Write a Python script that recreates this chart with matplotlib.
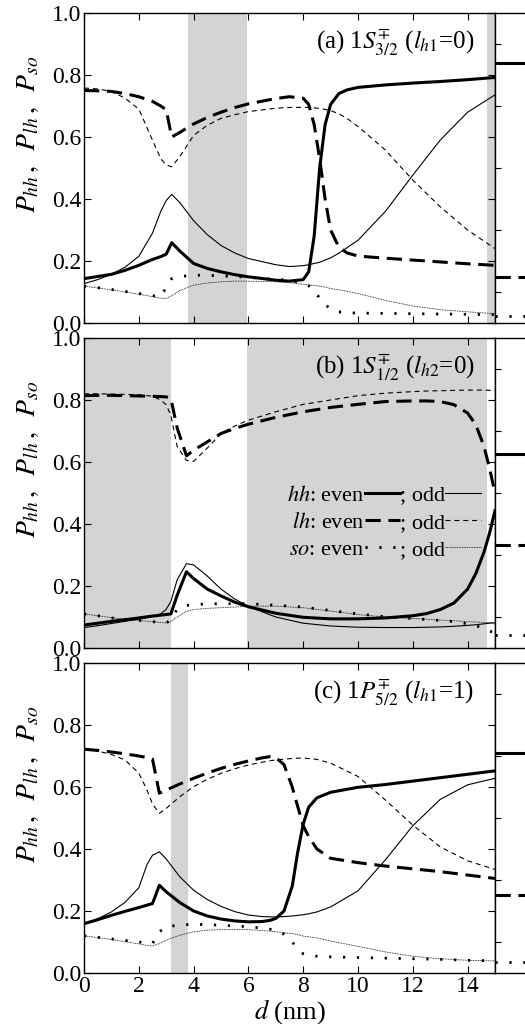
import numpy as np
import matplotlib
matplotlib.use("Agg")
import matplotlib.pyplot as plt

plt.rcParams['font.family'] = ['Liberation Serif', 'DejaVu Serif']
plt.rcParams['mathtext.fontset'] = 'stix'
plt.rcParams['font.size'] = 17

# ---- panel (a) 1S 3/2 ----
d_a = [0, 0.5, 1, 1.5, 2, 2.5, 2.8, 3.0, 3.2, 3.5, 4, 4.5, 5, 5.5, 6, 7, 7.5, 8,
       8.2, 8.4, 8.6, 8.8, 9.0, 9.3, 9.6, 10, 11, 12, 13, 14, 15]
hh_even_a = [0.143, 0.150, 0.157, 0.170, 0.186, 0.205, 0.214, 0.222, 0.259, 0.232,
             0.192, 0.176, 0.165, 0.156, 0.149, 0.138, 0.135, 0.140, 0.165, 0.28,
             0.50, 0.64, 0.705, 0.74, 0.752, 0.760, 0.768, 0.774, 0.779, 0.785, 0.792]
hh_odd_a = [0.127, 0.140, 0.157, 0.180, 0.215, 0.29, 0.36, 0.395, 0.415, 0.388,
            0.33, 0.285, 0.25, 0.226, 0.208, 0.188, 0.182, 0.185, 0.188, 0.192,
            0.196, 0.203, 0.21, 0.225, 0.243, 0.267, 0.36, 0.477, 0.59, 0.68, 0.736]
lh_even_a = [0.75, 0.749, 0.747, 0.74, 0.73, 0.715, 0.70, 0.688, 0.60, 0.615,
             0.642, 0.663, 0.68, 0.695, 0.707, 0.724, 0.73, 0.725, 0.705, 0.64,
             0.53, 0.40, 0.30, 0.245, 0.226, 0.216, 0.209, 0.203, 0.197, 0.191, 0.186]
lh_odd_a = [0.758, 0.755, 0.747, 0.725, 0.69, 0.59, 0.53, 0.51, 0.504, 0.537,
            0.605, 0.638, 0.66, 0.672, 0.682, 0.693, 0.695, 0.696, 0.695, 0.694,
            0.692, 0.689, 0.685, 0.675, 0.66, 0.634, 0.558, 0.461, 0.375, 0.30, 0.24]
so_even_a = [0.119, 0.114, 0.108, 0.102, 0.095, 0.088, 0.085, 0.115, 0.143, 0.150,
             0.154, 0.154, 0.152, 0.150, 0.147, 0.141, 0.138, 0.128, 0.12, 0.105,
             0.08, 0.06, 0.045, 0.036, 0.033, 0.032, 0.031, 0.030, 0.029, 0.028, 0.027]
so_odd_a = [0.119, 0.113, 0.107, 0.100, 0.093, 0.085, 0.080, 0.079, 0.088, 0.105,
            0.122, 0.129, 0.133, 0.135, 0.135, 0.133, 0.130, 0.125, 0.123, 0.121,
            0.119, 0.116, 0.111, 0.107, 0.102, 0.095, 0.073, 0.055, 0.043, 0.036, 0.030]

# ---- panel (b) 1S 1/2 ----
d_b = [0, 0.5, 1, 1.5, 2, 2.5, 2.8, 3.0, 3.17, 3.4, 3.74, 4, 4.5, 5, 5.5, 6, 7, 8,
       9, 10, 11, 12, 12.5, 13, 13.5, 14, 14.3, 14.6, 14.8, 15]
hh_even_b = [0.074, 0.080, 0.086, 0.091, 0.097, 0.103, 0.106, 0.108, 0.110, 0.17,
             0.246, 0.224, 0.19, 0.168, 0.148, 0.133, 0.112, 0.099, 0.094, 0.094,
             0.097, 0.104, 0.111, 0.124, 0.145, 0.19, 0.24, 0.31, 0.37, 0.443]
hh_odd_b = [0.066, 0.072, 0.079, 0.086, 0.093, 0.102, 0.11, 0.125, 0.15, 0.22,
            0.272, 0.268, 0.232, 0.19, 0.158, 0.134, 0.100, 0.080, 0.071, 0.067,
            0.066, 0.066, 0.067, 0.068, 0.070, 0.073, 0.075, 0.078, 0.080, 0.081]
lh_even_b = [0.814, 0.815, 0.815, 0.814, 0.813, 0.812, 0.811, 0.81, 0.805, 0.71,
             0.62, 0.638, 0.665, 0.692, 0.708, 0.722, 0.744, 0.762, 0.776, 0.786,
             0.795, 0.797, 0.797, 0.795, 0.785, 0.758, 0.72, 0.65, 0.58, 0.50]
lh_odd_b = [0.82, 0.82, 0.819, 0.818, 0.817, 0.812, 0.80, 0.785, 0.75, 0.65,
            0.605, 0.602, 0.645, 0.692, 0.716, 0.735, 0.762, 0.786, 0.80, 0.814,
            0.822, 0.827, 0.829, 0.83, 0.831, 0.832, 0.832, 0.832, 0.831, 0.831]
so_even_b = [0.110, 0.104, 0.097, 0.093, 0.089, 0.085, 0.082, 0.081, 0.09, 0.125,
             0.137, 0.14, 0.142, 0.143, 0.143, 0.143, 0.138, 0.132, 0.121, 0.110,
             0.101, 0.095, 0.092, 0.089, 0.085, 0.078, 0.072, 0.063, 0.055, 0.048]
so_odd_b = [0.110, 0.104, 0.098, 0.093, 0.089, 0.085, 0.082, 0.081, 0.085, 0.10,
            0.118, 0.124, 0.128, 0.130, 0.132, 0.135, 0.135, 0.130, 0.119, 0.108,
            0.100, 0.095, 0.093, 0.090, 0.088, 0.085, 0.084, 0.082, 0.082, 0.081]

# ---- panel (c) 1P 5/2 ----
d_c = [0, 0.5, 1, 1.5, 2, 2.3, 2.5, 2.75, 3, 3.5, 4, 4.5, 5, 5.5, 6, 6.5, 6.8, 7,
       7.3, 7.6, 7.8, 8.0, 8.2, 8.5, 9, 10, 11, 12, 13, 14, 15]
hh_even_c = [0.159, 0.172, 0.186, 0.199, 0.211, 0.219, 0.224, 0.283, 0.262, 0.227,
             0.200, 0.184, 0.174, 0.168, 0.165, 0.166, 0.170, 0.176, 0.20, 0.28,
             0.39, 0.48, 0.535, 0.565, 0.583, 0.599, 0.608, 0.619, 0.630, 0.641, 0.652]
hh_odd_c = [0.159, 0.175, 0.197, 0.228, 0.275, 0.35, 0.38, 0.391, 0.368, 0.31,
            0.267, 0.237, 0.215, 0.198, 0.187, 0.182, 0.181, 0.181, 0.182, 0.184,
            0.186, 0.188, 0.191, 0.197, 0.213, 0.265, 0.365, 0.475, 0.56, 0.607, 0.628]
lh_even_c = [0.722, 0.718, 0.713, 0.707, 0.70, 0.695, 0.69, 0.58, 0.59, 0.61,
             0.628, 0.645, 0.66, 0.673, 0.684, 0.694, 0.698, 0.695, 0.672, 0.60,
             0.537, 0.475, 0.44, 0.40, 0.37, 0.356, 0.345, 0.336, 0.327, 0.316, 0.305]
lh_odd_c = [0.722, 0.716, 0.705, 0.687, 0.645, 0.59, 0.545, 0.515, 0.531, 0.569,
            0.601, 0.625, 0.644, 0.659, 0.671, 0.680, 0.685, 0.687, 0.69, 0.692,
            0.693, 0.693, 0.692, 0.689, 0.677, 0.634, 0.558, 0.477, 0.407, 0.362, 0.334]
so_even_c = [0.120, 0.115, 0.110, 0.105, 0.100, 0.097, 0.095, 0.133, 0.149, 0.155,
             0.157, 0.156, 0.154, 0.152, 0.149, 0.145, 0.141, 0.138, 0.125, 0.10,
             0.079, 0.062, 0.056, 0.054, 0.052, 0.050, 0.048, 0.046, 0.044, 0.041, 0.039]
so_odd_c = [0.120, 0.114, 0.108, 0.101, 0.094, 0.089, 0.087, 0.095, 0.106, 0.122,
            0.133, 0.138, 0.140, 0.140, 0.140, 0.137, 0.135, 0.133, 0.130, 0.127,
            0.124, 0.119, 0.117, 0.113, 0.103, 0.086, 0.068, 0.054, 0.046, 0.041, 0.039]

# bulk limits (hh, lh, so) shown in the strip on the right
bulk_a = [0.838, 0.149, 0.022]
bulk_b = [0.625, 0.332, 0.041]
bulk_c = [0.711, 0.253, 0.036]

# gray bands (d ranges)
bands_a = [(3.8, 5.95), (14.7, 15.0)]
bands_b = [(0.0, 3.17), (5.95, 14.7)]
bands_c = [(3.17, 3.8)]

titles = [r'(a) 1$S^{\mp}_{3/2}$ ($l_{h1}$=0)',
          r'(b) 1$S^{\mp}_{1/2}$ ($l_{h2}$=0)',
          r'(c) 1$P^{\mp}_{5/2}$ ($l_{h1}$=1)']

panels = [
    (d_a, hh_even_a, hh_odd_a, lh_even_a, lh_odd_a, so_even_a, so_odd_a, bulk_a, bands_a),
    (d_b, hh_even_b, hh_odd_b, lh_even_b, lh_odd_b, so_even_b, so_odd_b, bulk_b, bands_b),
    (d_c, hh_even_c, hh_odd_c, lh_even_c, lh_odd_c, so_even_c, so_odd_c, bulk_c, bands_c),
]

styles = {
    'hh_even': dict(color='k', lw=2.2, ls='-'),
    'hh_odd': dict(color='k', lw=0.8, ls='-'),
    'lh_even': dict(color='k', lw=2.2, ls=(0, (5, 2.5))),
    'lh_odd': dict(color='k', lw=0.8, ls=(0, (4.5, 3.5))),
    'so_even': dict(color='k', lw=2.0, ls=(0, (0.8, 4.2))),
    'so_odd': dict(color='k', lw=0.6, ls=(0, (1, 1))),
}
band_col = '#d3d4d6'

fig = plt.figure(figsize=(5.25, 10.3), dpi=100)
lefts = 84 / 525
width = 411 / 525
tops = [13, 338, 663]
h_px = 310

for i, (d, hhe, hho, lhe, lho, soe, soo, bulk, bands) in enumerate(panels):
    bottom = 1 - (tops[i] + h_px) / 1030
    ax = fig.add_axes([lefts, bottom, width, h_px / 1030])
    for x0, x1 in bands:
        ax.axvspan(x0, x1, color=band_col, lw=0, zorder=0)
    l1, = ax.plot(d, hhe, **styles['hh_even'])
    l2, = ax.plot(d, hho, **styles['hh_odd'])
    l3, = ax.plot(d, lhe, **styles['lh_even'])
    l4, = ax.plot(d, lho, **styles['lh_odd'])
    l5, = ax.plot(d, soe, **styles['so_even'])
    l6, = ax.plot(d, soo, **styles['so_odd'])
    ax.set_xlim(0, 15)
    ax.set_ylim(0, 1)
    ax.set_xticks(np.arange(0, 15, 2))
    ax.set_yticks(np.arange(0, 1.01, 0.2))
    ax.yaxis.set_major_formatter(matplotlib.ticker.FormatStrFormatter('%.1f'))
    ax.tick_params(direction='in', top=True, right=True, length=5, width=0.8,
                   labelsize=17, pad=2)
    for s in ax.spines.values():
        s.set_linewidth(1.0)
    if i < 2:
        ax.tick_params(labelbottom=False)
    else:
        ax.set_xlabel(r'$d$ (nm)', fontsize=19, labelpad=0)
    ax.set_ylabel(r'$P_{hh}\,,\;\;P_{lh}\,,\;\;P_{so}$', fontsize=20)
    ax.yaxis.set_label_coords(-0.105, 0.61)
    ax.text(14.25, 0.905, titles[i], ha='right', va='center', fontsize=18)

    if i == 1:
        ax.legend([l1, l3, l5, l2, l4, l6],
                  [r'$hh$: even', r'$lh$: even', r'$so$: even', '; odd', '; odd', '; odd'],
                  ncol=2, markerfirst=False, frameon=False, loc='center right',
                  bbox_to_anchor=(0.965, 0.405), borderpad=0, borderaxespad=0,
                  handlelength=1.6, handletextpad=0.0, columnspacing=0.0,
                  labelspacing=0.3, fontsize=16)

    # strip of bulk values at the right edge
    sx = fig.add_axes([495 / 525, bottom, 0.1, h_px / 1030])
    sx.set_xlim(0, 1)
    sx.set_ylim(0, 1)
    sx.axhline(bulk[0], **styles['hh_even'])
    sx.axhline(bulk[1], **styles['lh_even'])
    sx.axhline(bulk[2], **styles['so_even'])
    sx.set_xticks([])
    sx.set_yticks(np.arange(0.1, 1.0, 0.2))
    sx.tick_params(direction='in', length=4, width=0.8, labelleft=False)
    for s in sx.spines.values():
        s.set_linewidth(1.0)

fig.savefig('out.png', dpi=100)
